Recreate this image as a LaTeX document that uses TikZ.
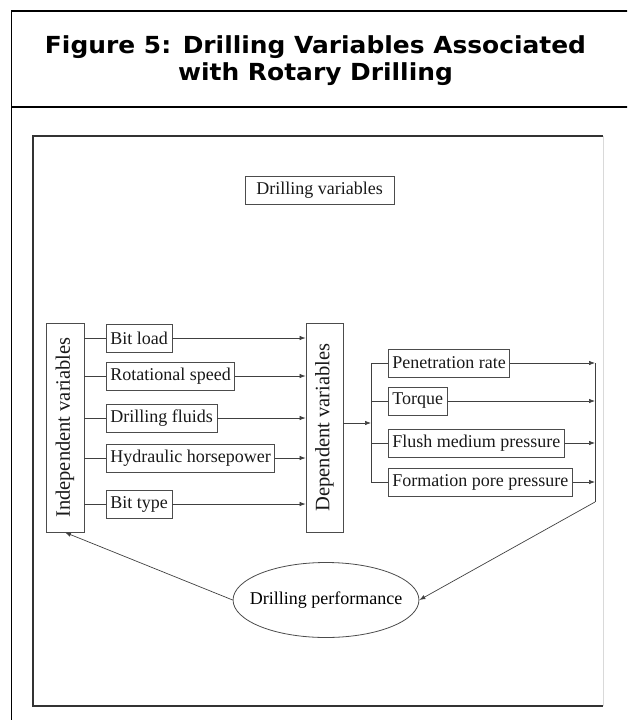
\documentclass[tikz,border=0pt]{standalone}
\usepackage{fontspec}
\setmainfont{Liberation Serif}
\newfontfamily\titlefont[FakeStretch=1.06]{DejaVu Sans}
\usetikzlibrary{shapes.geometric,arrows.meta}

\tikzset{
	varbox/.style={draw=black!70, line width=0.8pt, rectangle, inner xsep=4pt, inner ysep=2pt,
		minimum height=28pt, font=\fontsize{18}{18}\selectfont, text=black!90},
	sidebox/.style={draw=black!70, line width=0.8pt, rectangle, rotate=90, minimum width=209pt,
		minimum height=38pt, font=\fontsize{20.5}{20.5}\selectfont, text=black!90},
	link/.style={draw=black!75, line width=0.7pt},
}

\begin{document}
\begin{tikzpicture}[x=1pt,y=-1pt,>={Latex[length=6pt,width=4.5pt]}]
	\useasboundingbox (0,0) rectangle (627,720);
	% outer frame, cut at the page edge
	\begin{scope}
		\clip (0,0) rectangle (627,720);
		\draw[line width=1.2pt] (11.5,730) -- (11.5,11) -- (640,11);
		\draw[line width=1.2pt] (11.5,107) -- (640,107);
	\end{scope}
	\node[font=\titlefont\bfseries\fontsize{23.5}{27}\selectfont, align=center, inner sep=0pt] (title) at (315.5,61)
		{Figure 5: Drilling Variables Associated\\with Rotary Drilling};
	% scanned figure frame
	\draw[line width=2pt, black!80] (603,136) -- (33,136) -- (33,706) -- (603,706);
	\draw[line width=1pt, black!15] (603,136) -- (603,706);

	\node[varbox, minimum width=149pt] (dvars) at (319.5,190) {Drilling variables};
	\node[sidebox] (indep) at (65,427.5) {Independent variables};
	\node[sidebox, minimum height=37pt] (dep) at (324.5,427.5) {Dependent variables};

	% independent variables
	\foreach \name/\y/\txt in {bl/338/Bit load, rs/376/Rotational speed, df/418/Drilling fluids,
		hh/458/Hydraulic horsepower, bt/504/Bit type}{
		\node[varbox, anchor=west] (\name) at (106,\y) {\txt};
		\draw[link] (indep.south |- \name.west) -- (\name.west);
		\draw[link,->] (\name.east) -- (dep.north |- \name.east);
	}

	% dependent variables
	\coordinate (bus) at (371,423);
	\coordinate (coll) at (595,502);
	\draw[link,->] (dep.south |- bus) -- (bus);
	\foreach \name/\y/\txt in {pr/363/Penetration rate, tq/401/Torque, fm/443/Flush medium pressure,
		fp/482/Formation pore pressure}{
		\node[varbox, anchor=west] (\name) at (388,\y) {\txt};
		\draw[link] (bus |- \name.west) -- (\name.west);
		\draw[link,->] (\name.east) -- (coll |- \name.east);
	}
	\draw[link] (bus |- pr.west) -- (bus |- fp.west);
	\draw[link] (coll |- pr.east) -- (coll);

	\node[draw=black!70, line width=0.8pt, ellipse, inner xsep=-10.5pt, inner ysep=0pt,
		minimum height=75pt, font=\fontsize{18}{18}\selectfont] (perf) at (326,600) {Drilling performance};
	\draw[link,->] (coll) -- (perf.east);
	\draw[link,->] (perf.west) -- (indep.west);
\end{tikzpicture}
\end{document}
